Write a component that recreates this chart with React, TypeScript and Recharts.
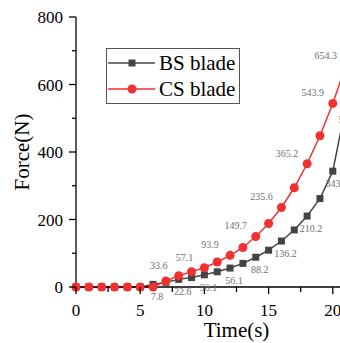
import React from 'react';
import { LineChart, Line, XAxis, YAxis, LabelList } from 'recharts';

// time in seconds, one point per second
const TIME = [0, 1, 2, 3, 4, 5, 6, 7, 8, 9, 10, 11, 12, 13, 14, 15, 16, 17, 18, 19, 20, 21];
const BS_FORCE = [0, 0, 0, 0, 0, 0, 7.8, 14, 22.6, 28, 36.1, 45, 56.1, 70, 88.2, 109, 136.2, 169, 210.2, 262, 343.2, 532.6];
const CS_FORCE = [0, 0, 0, 0, 0, 0, 0, 17.8, 33.6, 45.5, 57.1, 74, 93.9, 117, 149.7, 188, 235.6, 294, 365.2, 448, 543.9, 654.3];
// printed value labels (only some points carry one)
const BS_LABELS = ['', '', '', '', '', '', '7.8', '', '22.6', '', '36.1', '', '56.1', '', '88.2', '', '136.2', '', '210.2', '', '343.2', '532.6'];
const CS_LABELS = ['', '', '', '', '', '', '', '', '33.6', '', '57.1', '', '93.9', '', '149.7', '', '235.6', '', '365.2', '', '543.9', '654.3'];

const X_TICKS = [0, 2.5, 5, 7.5, 10, 12.5, 15, 17.5, 20, 22.5, 25];
const Y_TICKS = [0, 100, 200, 300, 400, 500, 600, 700, 800];
const TOP_TICKS = [0, 1, 2, 3, 4, 5, 6, 7, 8, 9, 10, 11, 12];
const SERIES = [
    { name: 'BS blade', color: '#444444', square: true },
    { name: 'CS blade', color: '#f23030', square: false },
];

const BS_COLOR = SERIES[0].color;
const CS_COLOR = SERIES[1].color;
const SERIF = '"Liberation Serif", "Times New Roman", serif';

const data = TIME.map((t, i) => ({
    t,
    bs: BS_FORCE[i],
    cs: CS_FORCE[i],
    bsLabel: BS_LABELS[i] || undefined,
    csLabel: CS_LABELS[i] || undefined,
}));

const YTick = (p: any) => {
    const { x, y, payload } = p;
    const v = payload.value;
    const major = v % 200 === 0;
    const ax = x + 13;
    return (
        <g>
            <line x1={ax} x2={ax - (major ? 7 : 4)} y1={y} y2={y} stroke="#000" strokeWidth={1.3} />
            {major && (
                <text x={x} y={y} dy={6} textAnchor="end" fontFamily={SERIF} fontSize={17} fill="#000">
                    {v}
                </text>
            )}
        </g>
    );
};

const XTick = (p: any) => {
    const { x, y, payload } = p;
    const v = payload.value;
    const major = v % 5 === 0;
    const ay = y - 15;
    return (
        <g>
            <line x1={x} x2={x} y1={ay} y2={ay + (major ? 7 : 5)} stroke="#000" strokeWidth={1.3} />
            {major && (
                <text x={x} y={y} dy={14} textAnchor="middle" fontFamily={SERIF} fontSize={17} fill="#000">
                    {v}
                </text>
            )}
        </g>
    );
};

const SquareDot = (p: any) => {
    if (p.cx == null || p.cy == null) return <g key={`bs-${p.index}`} />;
    return <rect key={`bs-${p.index}`} x={p.cx - 3.5} y={p.cy - 3.5} width={7} height={7} fill={BS_COLOR} />;
};

const valueLabel = (dx: number, dy: number) => (p: any) => {
    if (!p.value) return null;
    return (
        <text x={p.x + dx} y={p.y + dy} dy={3} textAnchor="middle" fontFamily={SERIF} fontSize={10} fill="#707070">
            {p.value}
        </text>
    );
};

const LegendBox = () => (
    <div style={{ position: 'absolute', left: 106, top: 48, width: 134, height: 56, border: '1px solid #555', boxSizing: 'border-box', fontFamily: SERIF, fontSize: 21, background: '#fff' }}>
        {SERIES.map((row, i) => (
            <div key={row.name} style={{ position: 'absolute', left: 0, top: 1 + i * 26, height: 26, display: 'flex', alignItems: 'center' }}>
                <svg width={52} height={26} style={{ display: 'block' }}>
                    <line x1={1} x2={48} y1={13} y2={13} stroke={row.color} strokeWidth={1.5} />
                    {row.square ? (
                        <rect x={21.5} y={9.5} width={7} height={7} fill={row.color} />
                    ) : (
                        <circle cx={25} cy={13} r={4.5} fill={row.color} />
                    )}
                </svg>
                <span style={{ color: '#000', lineHeight: '26px', whiteSpace: 'nowrap' }}>{row.name}</span>
            </div>
        ))}
    </div>
);

const App: React.FC = () => {
    return (
        <div style={{ position: 'absolute', left: 0, top: 0, width: 340, height: 343, overflow: 'hidden', background: '#fff' }}>
            <LineChart width={410} height={343} data={data} margin={{ top: 17, right: 13, left: 0, bottom: 0 }}>
                <XAxis
                    xAxisId="bottom"
                    dataKey="t"
                    type="number"
                    domain={[0, 25]}
                    ticks={X_TICKS}
                    height={56}
                    tickLine={false}
                    tickSize={6}
                    tickMargin={9}
                    tick={XTick}
                    axisLine={{ stroke: '#000', strokeWidth: 1.3 }}
                    interval={0}
                    label={{ value: 'Time(s)', position: 'insideBottom', offset: 6, fontFamily: SERIF, fontSize: 21, fill: '#000' }}
                />
                <XAxis
                    xAxisId="top"
                    orientation="top"
                    type="number"
                    domain={[0, 12]}
                    ticks={TOP_TICKS}
                    height={0}
                    mirror
                    tickSize={5}
                    tick={() => <g />}
                    tickLine={{ stroke: '#000', strokeWidth: 1.3 }}
                    axisLine={{ stroke: '#000', strokeWidth: 1.3 }}
                    interval={0}
                />
                <YAxis
                    type="number"
                    domain={[0, 800]}
                    ticks={Y_TICKS}
                    width={76}
                    tickLine={false}
                    tickSize={7}
                    tickMargin={6}
                    tick={YTick}
                    interval={0}
                    axisLine={{ stroke: '#000', strokeWidth: 1.3 }}
                    label={{
                        content: ({ viewBox }: any) => {
                            const cx = viewBox.x + 22;
                            const cy = viewBox.y + viewBox.height / 2;
                            return (
                                <text x={cx} y={cy} transform={`rotate(-90 ${cx} ${cy})`} textAnchor="middle" dominantBaseline="central" fontFamily={SERIF} fontSize={21} fill="#000">
                                    Force(N)
                                </text>
                            );
                        },
                    }}
                />
                <Line
                    xAxisId="bottom"
                    name="BS blade"
                    dataKey="bs"
                    stroke={BS_COLOR}
                    strokeWidth={1.5}
                    dot={SquareDot}
                    activeDot={false}
                    isAnimationActive={false}
                >
                    <LabelList dataKey="bsLabel" content={valueLabel(4, 13)} />
                </Line>
                <Line
                    xAxisId="bottom"
                    name="CS blade"
                    dataKey="cs"
                    stroke={CS_COLOR}
                    strokeWidth={1.5}
                    dot={{ r: 4.5, fill: CS_COLOR, stroke: CS_COLOR, strokeWidth: 0 }}
                    activeDot={false}
                    isAnimationActive={false}
                >
                    <LabelList dataKey="csLabel" content={valueLabel(-20, -10)} />
                </Line>
            </LineChart>
            <LegendBox />
        </div>
    );
};

export default App;
